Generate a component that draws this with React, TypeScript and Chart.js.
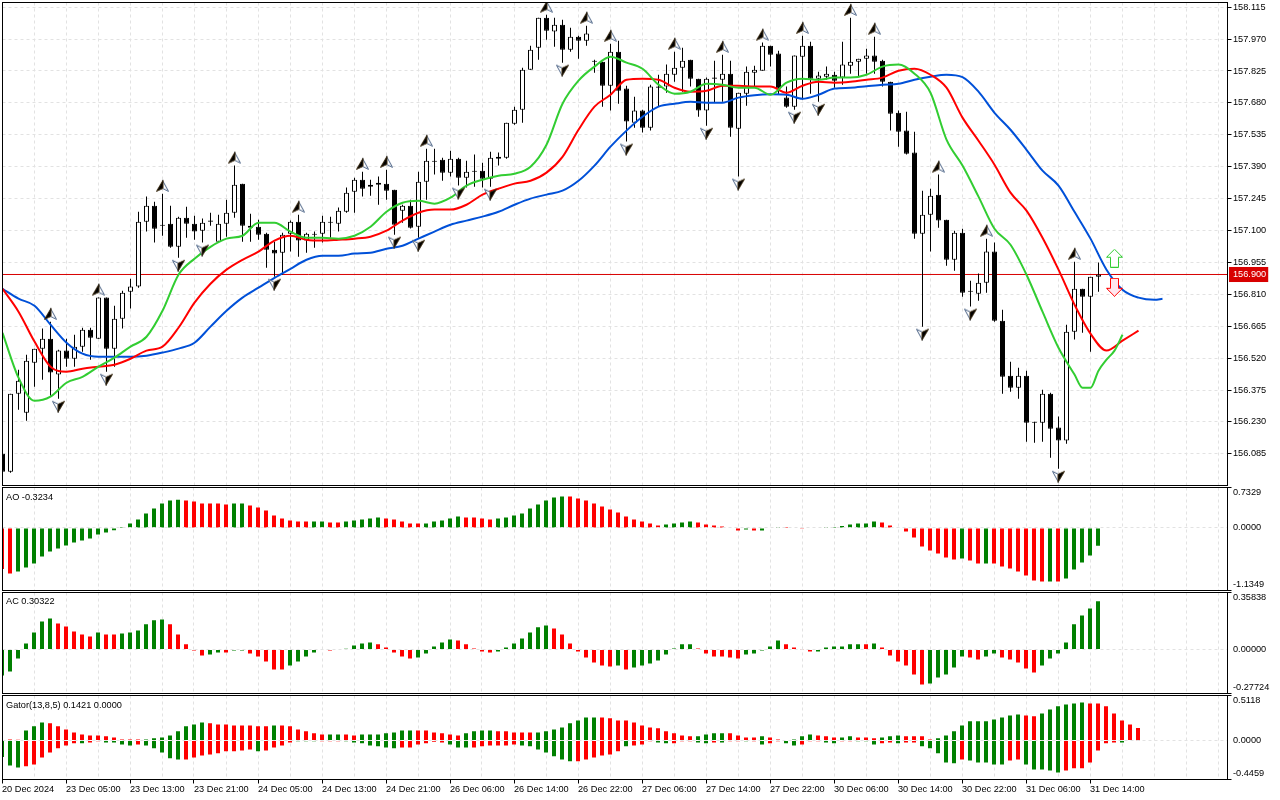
import React, { useEffect, useRef } from "react";
import { Chart, registerables } from "chart.js";

Chart.register(...registerables);

const opens = [
156.085,156.003,156.358,156.272,156.499,156.563,156.608,156.445,156.554,156.517,
156.572,156.649,156.608,156.795,156.563,156.699,156.822,156.845,157.140,157.213,
157.126,157.131,157.026,157.158,157.131,157.099,157.145,157.049,157.131,157.181,
157.313,157.122,157.117,157.085,157.013,156.999,157.085,157.140,157.054,157.085,
157.085,157.140,157.131,157.185,157.276,157.331,157.299,157.308,157.313,157.285,
157.190,157.213,157.117,157.322,157.417,157.422,157.363,157.426,157.340,157.372,
157.372,157.335,157.426,157.431,157.585,157.649,157.831,157.931,158.067,158.004,
158.035,157.922,157.981,157.963,157.872,157.867,157.758,157.913,157.745,157.590,
157.645,157.567,157.754,157.754,157.808,157.840,157.876,157.790,157.645,157.795,
157.785,157.813,157.563,157.722,157.817,157.826,157.940,157.904,157.704,157.663,
157.890,157.940,157.790,157.799,157.808,157.795,157.849,157.867,157.881,157.895,
157.872,157.776,157.635,157.554,157.454,157.085,157.172,157.263,157.149,156.967,
157.090,156.826,156.813,156.863,157.004,156.690,156.440,156.385,156.440,156.231,
156.226,156.358,156.204,156.145,156.640,156.835,156.799,156.890];

const highs = [
156.103,156.358,156.467,156.535,156.563,156.654,156.685,156.558,156.608,156.626,
156.658,156.658,156.795,156.795,156.758,156.826,156.881,157.185,157.254,157.231,
157.267,157.213,157.163,157.208,157.167,157.154,157.181,157.172,157.240,157.395,
157.313,157.176,157.149,157.090,157.049,157.090,157.145,157.172,157.090,157.095,
157.167,157.163,157.204,157.295,157.340,157.367,157.331,157.345,157.376,157.285,
157.217,157.240,157.367,157.472,157.472,157.431,157.463,157.431,157.417,157.445,
157.408,157.458,157.454,157.590,157.663,157.840,157.940,158.067,158.081,158.067,
158.058,158.022,157.985,158.031,157.876,157.867,157.949,157.963,157.758,157.708,
157.649,157.763,157.808,157.854,157.913,157.931,157.876,157.790,157.795,157.872,
157.899,157.872,157.726,157.845,157.849,157.954,157.940,157.917,157.754,157.895,
157.985,157.958,157.822,157.845,157.822,157.958,158.067,157.881,157.926,157.981,
157.876,157.776,157.645,157.640,157.549,157.281,157.290,157.354,157.149,157.099,
157.108,156.872,156.904,157.063,157.045,156.740,156.503,156.476,156.463,156.231,
156.376,156.363,156.254,156.672,156.958,156.835,156.890,156.954];

const lows = [
155.999,155.999,156.285,156.235,156.390,156.422,156.349,156.335,156.481,156.481,
156.549,156.513,156.608,156.458,156.481,156.654,156.745,156.840,157.095,157.045,
157.076,157.022,156.976,157.067,157.058,157.045,157.122,157.045,157.072,157.158,
157.049,157.049,157.058,156.931,156.890,156.899,157.004,156.981,156.999,157.022,
157.045,157.067,157.095,157.181,157.181,157.254,157.258,157.217,157.240,157.081,
157.135,157.109,157.067,157.240,157.354,157.326,157.345,157.304,157.295,157.299,
157.295,157.299,157.395,157.426,157.581,157.590,157.831,157.876,157.967,157.935,
157.863,157.913,157.881,157.940,157.817,157.663,157.645,157.676,157.504,157.567,
157.545,157.554,157.663,157.726,157.776,157.731,157.754,157.617,157.576,157.681,
157.685,157.526,157.345,157.667,157.754,157.826,157.845,157.717,157.658,157.649,
157.695,157.722,157.685,157.785,157.749,157.763,157.813,157.799,157.813,157.813,
157.754,157.554,157.481,157.445,157.063,156.663,157.004,157.113,156.940,156.917,
156.799,156.754,156.781,156.817,156.685,156.358,156.367,156.335,156.140,156.135,
156.140,156.067,156.017,156.131,156.604,156.635,156.549,156.822];

const closes = [
156.003,156.358,156.417,156.508,156.563,156.608,156.454,156.554,156.517,156.572,
156.649,156.613,156.795,156.563,156.699,156.817,156.845,157.140,157.213,157.108,
157.122,157.026,157.158,157.131,157.095,157.135,157.140,157.131,157.181,157.308,
157.122,157.113,157.081,157.013,156.995,157.081,157.140,157.054,157.085,157.081,
157.140,157.135,157.190,157.272,157.331,157.290,157.308,157.317,157.281,157.126,
157.213,157.113,157.322,157.417,157.413,157.363,157.426,157.340,157.367,157.367,
157.335,157.431,157.435,157.590,157.649,157.831,157.922,158.067,158.008,158.035,
157.922,157.981,157.963,157.995,157.867,157.758,157.913,157.735,157.595,157.645,
157.567,157.754,157.749,157.813,157.840,157.872,157.790,157.645,157.790,157.790,
157.813,157.567,157.726,157.822,157.831,157.940,157.899,157.745,157.663,157.895,
157.940,157.790,157.804,157.813,157.781,157.854,157.867,157.881,157.895,157.867,
157.776,157.631,157.549,157.449,157.085,157.172,157.258,157.145,156.967,157.090,
156.817,156.822,156.863,157.004,156.690,156.435,156.385,156.440,156.226,156.226,
156.358,156.199,156.145,156.640,156.835,156.799,156.890,156.900];

// Alligator lines, read every second bar (and bar by bar where the lips turn)
const jawValues = [
156.835,156.790,156.758,156.672,156.590,156.540,156.526,156.526,156.526,156.531,
156.545,156.563,156.590,156.663,156.735,156.795,156.840,156.885,156.926,156.967,
156.985,156.985,156.995,156.999,157.017,157.031,157.063,157.095,157.126,157.145,
157.163,157.185,157.217,157.245,157.263,157.281,157.326,157.395,157.481,157.554,
157.617,157.663,157.676,157.685,157.681,157.681,157.704,157.715,157.719,157.717,
157.699,157.717,157.745,157.749,157.756,157.763,157.767,157.785,157.799,157.808,
157.797,157.731,157.635,157.558,157.467,157.372,157.304,157.185,157.063,156.922,
156.831,156.795,156.785,156.790];
const teethValues = [
156.835,156.731,156.595,156.481,156.458,156.472,156.481,156.490,156.517,156.554,
156.572,156.658,156.772,156.858,156.922,156.967,157.004,157.054,157.076,157.058,
157.054,157.058,157.063,157.072,157.099,157.145,157.181,157.195,157.195,157.217,
157.263,157.290,157.313,157.326,157.363,157.435,157.558,157.663,157.717,157.785,
157.790,157.785,157.749,157.731,157.735,157.758,157.758,157.754,157.754,157.726,
157.758,157.776,157.772,157.776,157.785,157.795,157.826,157.835,157.808,157.749,
157.613,157.508,157.399,157.272,157.190,157.067,156.922,156.763,156.631,156.554,
156.599,156.645];
const lipsValues = [
156.635,156.431,156.326,156.345,156.408,156.435,156.481,156.522,156.572,156.617,
156.735,156.899,156.972,157.026,157.063,157.076,157.135,157.135,157.095,157.067,
157.067,157.063,157.076,157.117,157.185,157.226,157.235,157.222,157.249,157.304,
157.331,157.349,157.358,157.390,157.490,157.676,157.781,157.845,157.890,157.863,
157.835,157.763,157.722,157.731,157.767,157.763,157.749,157.749,157.717,157.772,
157.790,157.785,157.795,157.795,157.808,157.845,157.854,157.813,157.726,157.513,
157.395,157.254,157.108,157.035,156.899,156.731,156.567,156.445,156.385,156.385,
156.463,156.513,156.554,156.626];
const jawBars = jawValues.map((_, k) => Math.min(2 * k, 145));
const lipsBars = [...jawBars.slice(0, 68), 135, 136, 137, 138, 139, 140];

const fractalUpBars = [6,12,20,29,37,45,48,53,68,73,76,84,90,95,100,106,109,117,123,134];
const fractalDownBars = [7,13,22,25,34,49,52,57,61,70,78,88,92,99,102,115,121,132];

const lastPrice = 156.9;
const arrowBar = 139;
const arrowUpPrice = 156.974;
const arrowDownPrice = 156.842;

const aoValues = [
-.743,-.827,-.791,-.719,-.646,-.519,-.429,-.374,-.320,-.266,-.230,-.193,-.121,-.085,-.042,.018,.079,.151,.260,.350,
.441,.495,.513,.495,.477,.441,.441,.441,.423,.441,.441,.405,.368,.314,.223,.169,.133,.115,.115,.115,
.115,.097,.097,.115,.133,.151,.169,.187,.169,.151,.115,.079,.079,.079,.115,.133,.169,.205,.187,.187,
.169,.151,.169,.187,.223,.260,.350,.423,.495,.550,.568,.568,.532,.495,.441,.387,.332,.278,.205,.151,
.115,.079,.042,.060,.079,.097,.115,.097,.060,.042,.024,.006,-.048,-.030,-.048,-.048,-.012,.018,.018,-.012,
-.006,-.012,-.012,.018,.018,.036,.060,.079,.079,.115,.097,.042,.006,-.066,-.175,-.338,-.411,-.465,-.538,-.574,
-.556,-.592,-.646,-.646,-.646,-.701,-.737,-.791,-.864,-.954,-.972,-.972,-.972,-.918,-.755,-.628,-.501,-.3234];
const aoColorRuns = [2,21,6,2,8,2,2,5,5,5,4,9,12,4,6,1,1,3,5,7,10,1,2,1,7,1,1,5];

const acValues = [
-.164,-.139,-.057,.038,.107,.176,.195,.164,.145,.113,.094,.082,.107,.094,.094,.101,.107,.120,.158,.183,
.189,.158,.094,.032,-.006,-.038,-.032,-.019,-.019,-.006,-.006,-.025,-.044,-.076,-.126,-.126,-.101,-.076,-.044,-.019,
-.004,-.006,-.004,.004,.025,.038,.044,.032,.013,-.019,-.044,-.057,-.050,-.025,.019,.044,.063,.057,.032,.006,
-.013,-.019,-.013,.013,.038,.069,.107,.139,.151,.132,.094,.038,-.013,-.050,-.082,-.101,-.107,-.101,-.126,-.113,
-.101,-.088,-.069,-.032,.006,.032,.032,.006,-.025,-.044,-.044,-.050,-.057,-.032,-.025,-.006,.019,.057,.032,.013,
-.002,-.013,-.013,.013,.019,.019,.032,.032,.032,.038,.013,-.038,-.076,-.101,-.158,-.221,-.214,-.176,-.158,-.113,
-.044,-.050,-.063,-.044,-.025,-.050,-.063,-.082,-.120,-.145,-.101,-.057,-.025,.044,.158,.214,.258,.30322];
const acColorRuns = [0,7,5,1,2,6,5,2,1,2,5,5,1,5,5,5,5,7,8,1,1,8,6,5,4,6,1,1,6,5,2,2,5,8];

const gatorUpValues = [
.004,.011,.008,.114,.160,.205,.194,.160,.125,.091,.068,.057,.057,.046,.034,.011,.011,.011,.011,.023,
.034,.057,.103,.160,.182,.205,.194,.182,.182,.171,.171,.171,.160,.160,.171,.171,.160,.125,.103,.080,
.068,.068,.068,.068,.057,.068,.068,.068,.080,.091,.114,.114,.114,.114,.091,.080,.068,.057,.080,.103,
.114,.114,.103,.103,.091,.091,.091,.091,.103,.125,.148,.194,.228,.262,.262,.262,.251,.228,.228,.205,
.171,.148,.137,.103,.080,.057,.046,.046,.068,.080,.080,.080,.057,.034,.034,.046,.034,.011,.004,.011,
.046,.068,.057,.046,.034,.034,.046,.034,.034,.023,.034,.046,.057,.046,.046,.046,.011,.023,.057,.103,
.171,.217,.217,.217,.239,.262,.285,.296,.285,.274,.308,.353,.388,.410,.422,.433,.422,.422,.388,.308,
.228,.182,.1421];
const gatorDownValues = [
-.190,-.285,-.308,-.296,-.274,-.194,-.137,-.091,-.057,-.034,-.034,-.023,-.011,-.023,-.023,-.046,-.057,-.046,-.057,-.091,
-.137,-.205,-.217,-.217,-.194,-.171,-.160,-.148,-.125,-.125,-.114,-.103,-.125,-.114,-.080,-.057,-.023,-.011,-.011,-.011,
-.011,-.011,-.011,-.011,-.023,-.034,-.057,-.068,-.080,-.091,-.080,-.080,-.046,-.034,-.015,-.023,-.046,-.080,-.080,-.080,
-.068,-.057,-.057,-.057,-.046,-.057,-.068,-.103,-.137,-.182,-.217,-.239,-.239,-.217,-.194,-.171,-.160,-.125,-.068,-.057,
-.046,-.011,-.023,-.034,-.034,-.011,-.011,-.023,-.034,-.023,-.023,-.011,-.011,-.011,-.011,-.046,-.034,-.011,-.034,-.057,
-.046,-.011,-.011,-.023,-.034,-.011,-.011,-.011,-.011,-.046,-.034,-.023,-.034,-.023,-.023,-.068,-.091,-.148,-.251,-.262,
-.217,-.228,-.251,-.251,-.274,-.274,-.228,-.217,-.274,-.331,-.331,-.342,-.365,-.342,-.319,-.319,-.251,-.114,-.034,-.023,
-.023,-.008,-.004];
const gatorUpColorRuns = [3,3,12,8,8,1,6,2,2,7,6,4,5,8,12,4,4,1,2,4,3,2,3,3,4,11,2,6,7];
const gatorDownColorRuns = [0,3,7,1,2,4,1,5,9,1,4,3,3,7,6,3,6,7,6,1,3,2,3,2,1,1,2,1,1,1,2,2,3,2,2,3,2,1,2,5,1,5,2,5,7,1,2];

const timeLabels = [
"20 Dec 2024","23 Dec 05:00","23 Dec 13:00","23 Dec 21:00","24 Dec 05:00","24 Dec 13:00",
"24 Dec 21:00","26 Dec 06:00","26 Dec 14:00","26 Dec 22:00","27 Dec 06:00","27 Dec 14:00",
"27 Dec 22:00","30 Dec 06:00","30 Dec 14:00","30 Dec 22:00","31 Dec 06:00","31 Dec 14:00"];
const priceTicks = [158.115,157.97,157.825,157.68,157.535,157.39,157.245,157.1,156.955,156.81,156.665,156.52,156.375,156.23,156.085];

const aoRange = { max: 0.7329, min: -1.1349, labels: ["0.7329", "0.0000", "-1.1349"] };
const acRange = { max: 0.35838, min: -0.27724, labels: ["0.35838", "0.00000", "-0.27724"] };
const gatorRange = { max: 0.5118, min: -0.4459, labels: ["0.5118", "0.0000", "-0.4459"] };

const GREEN = "#008000";
const RED = "#ff0000";
const GRID = "#e2e2e2";
const FONT = { family: "'Liberation Sans', Arial, sans-serif", size: 9.2 };
const W = 1280;
const XMAX = 153.125;
const gridTicks = Array.from({ length: 39 }, (_, k) => k * 4);

function runsToColors(runs: number[]) {
  const out: string[] = [];
  runs.forEach((n, k) => { for (let j = 0; j < n; j++) out.push(k % 2 ? GREEN : RED); });
  return out;
}

function fractalIcon(up: boolean) {
  const c = document.createElement("canvas");
  c.width = 15; c.height = 30;
  const g = c.getContext("2d")!;
  const cx = 7.5;
  g.lineWidth = 1;
  if (up) {
    g.beginPath(); g.moveTo(cx, 1.5); g.lineTo(cx, 9.5); g.lineTo(13.5, 12.5); g.closePath();
    g.fillStyle = "#fff"; g.fill(); g.strokeStyle = "#4a6285"; g.stroke();
    g.beginPath(); g.moveTo(cx + 0.5, 1.5); g.lineTo(cx + 0.5, 9.5); g.lineTo(1.5, 12.5); g.closePath();
    g.fillStyle = "#000"; g.fill(); g.strokeStyle = "#3a2a10"; g.stroke();
  } else {
    g.beginPath(); g.moveTo(cx, 28.5); g.lineTo(cx, 20.5); g.lineTo(1.5, 17.5); g.closePath();
    g.fillStyle = "#fff"; g.fill(); g.strokeStyle = "#4a6285"; g.stroke();
    g.beginPath(); g.moveTo(cx - 0.5, 28.5); g.lineTo(cx - 0.5, 20.5); g.lineTo(13.5, 17.5); g.closePath();
    g.fillStyle = "#000"; g.fill(); g.strokeStyle = "#3a2a10"; g.stroke();
  }
  return c;
}

function arrowIcon(up: boolean) {
  const c = document.createElement("canvas");
  c.width = 17; c.height = 19;
  const g = c.getContext("2d")!;
  g.beginPath();
  if (up) {
    g.moveTo(8.5, 0.5); g.lineTo(16.5, 8.5); g.lineTo(12.5, 8.5); g.lineTo(12.5, 18.5);
    g.lineTo(4.5, 18.5); g.lineTo(4.5, 8.5); g.lineTo(0.5, 8.5);
  } else {
    g.moveTo(8.5, 18.5); g.lineTo(16.5, 10.5); g.lineTo(12.5, 10.5); g.lineTo(12.5, 0.5);
    g.lineTo(4.5, 0.5); g.lineTo(4.5, 10.5); g.lineTo(0.5, 10.5);
  }
  g.closePath();
  g.fillStyle = up ? "#fff" : "#ffe6ee"; g.fill();
  g.strokeStyle = up ? "#32cd32" : "#ff0000"; g.lineWidth = 1; g.stroke();
  return c;
}

const frame = {
  id: "frame",
  afterDraw(chart: any) {
    const { left, top, right, bottom } = chart.chartArea;
    const g = chart.ctx;
    g.save(); g.strokeStyle = "#000"; g.lineWidth = 1;
    g.strokeRect(left, top, right - left, bottom - top);
    g.restore();
  },
};

function xAxis(xmin: number, withLabels: boolean) {
  return {
    type: "linear", min: xmin, max: XMAX + xmin, offset: false,
    afterBuildTicks(s: any) { s.ticks = gridTicks.map((v) => ({ value: v })); },
    afterFit(s: any) { s.height = withLabels ? 20 : 0; s.paddingLeft = 0; s.paddingRight = 0; },
    border: { display: false, dash: [3, 3] },
    grid: {
      offset: false, z: -1, color: GRID, lineWidth: 1, drawTicks: withLabels, tickLength: 4,
      tickBorderDash: [],
      tickColor: (c: any) => (c.index % 2 === 0 && c.index / 2 < timeLabels.length ? "#000" : "transparent"),
    },
    ticks: {
      display: withLabels, autoSkip: false, maxRotation: 0, minRotation: 0, align: "start", padding: 0,
      color: "#000", font: FONT,
      callback: (_v: any, i: number) => (i % 2 === 0 ? timeLabels[i / 2] ?? "" : ""),
    },
  };
}

function indicatorY(r: { max: number; min: number; labels: string[] }, heightPx: number) {
  const per = (r.max - r.min) / heightPx;
  const list = [r.max, r.max - 5 * per, 0, r.min + 6 * per, r.min];
  const text = ["", r.labels[0], r.labels[1], r.labels[2], ""];
  return {
    type: "linear", position: "right", min: r.min, max: r.max,
    afterBuildTicks(s: any) { s.ticks = list.map((v) => ({ value: v })); },
    afterFit(s: any) { s.width = 52.5; s.paddingTop = 0; s.paddingBottom = 0; },
    border: { display: false, dash: [3, 3] },
    grid: {
      z: 1, lineWidth: 1, tickLength: 4, tickBorderDash: [],
      color: (c: any) => (c.index === 2 ? GRID : "transparent"),
      tickColor: (c: any) => (c.index === 0 || c.index === 4 ? "#000" : "transparent"),
    },
    ticks: { autoSkip: false, padding: 1.5, color: "#000", font: FONT, callback: (_v: any, i: number) => text[i] },
  };
}

function baseOptions(x: any, y: any, padding: any) {
  return {
    responsive: false, animation: false, devicePixelRatio: 1, events: [],
    layout: { padding, autoPadding: false },
    plugins: { legend: { display: false }, tooltip: { enabled: false } },
    scales: { x, y },
  };
}

function histo(values: number[], colors: string[]) {
  return {
    type: "bar", grouped: false, barThickness: 4, inflateAmount: 0, borderWidth: 0,
    data: values.map((v, i) => ({ x: i, y: v })), backgroundColor: colors,
  };
}

const lineDs = (bars: number[], values: number[], color: string, order: number) => ({
  type: "line", data: values.map((v, k) => ({ x: bars[k], y: v })),
  borderColor: color, borderWidth: 2, pointRadius: 0, cubicInterpolationMode: "monotone", order,
});

export default function App() {
  const mainRef = useRef<HTMLCanvasElement>(null);
  const aoRef = useRef<HTMLCanvasElement>(null);
  const acRef = useRef<HTMLCanvasElement>(null);
  const gatorRef = useRef<HTMLCanvasElement>(null);

  useEffect(() => {
    const bars = opens.map((_, i) => i);
    const mainX = xAxis(0, false);
    const mainY = {
      type: "linear", position: "right", min: 155.94091, max: 158.13636,
      afterBuildTicks(s: any) { s.ticks = [...priceTicks, lastPrice].sort((a, b) => a - b).map((v) => ({ value: v })); },
      afterFit(s: any) { s.width = 52.5; s.paddingTop = 0; s.paddingBottom = 0; },
      border: { display: false, dash: [3, 3] },
      grid: {
        z: -1, lineWidth: 1, tickLength: 4, tickBorderDash: [],
        color: (c: any) => (c.tick && c.tick.value === lastPrice ? "transparent" : GRID),
        tickColor: (c: any) => (c.tick && c.tick.value === lastPrice ? "transparent" : "#000"),
      },
      ticks: {
        autoSkip: false, padding: 1.5, font: FONT,
        color: (c: any) => (c.tick && c.tick.value === lastPrice ? "#fff" : "#000"),
        showLabelBackdrop: (c: any) => !!(c.tick && c.tick.value === lastPrice),
        backdropColor: "#d80000",
        backdropPadding: { top: 2, bottom: 2, left: 4, right: 2 },
        callback: (v: number) => v.toFixed(3),
      },
    };

    const charts = [
      new Chart(mainRef.current!, {
        type: "bar",
        data: {
          datasets: [
            { type: "line", data: [{ x: 0, y: lastPrice }, { x: XMAX, y: lastPrice }], borderColor: "#d80000", borderWidth: 1, pointRadius: 0, order: 9 },
            { type: "bar", grouped: false, barThickness: 1, inflateAmount: 0, borderWidth: 0, backgroundColor: "#000", order: 8,
              data: bars.map((i) => ({ x: i, y: [lows[i], highs[i]] })) },
            { type: "bar", grouped: false, barThickness: 5, inflateAmount: 0, borderWidth: 1, borderSkipped: false, borderColor: "#000", order: 7,
              backgroundColor: bars.map((i) => (closes[i] > opens[i] ? "#fff" : "#000")),
              data: bars.map((i) => ({ x: i, y: [Math.min(opens[i], closes[i]), Math.max(opens[i], closes[i])] })) },
            lineDs(jawBars, jawValues, "#0050d8", 6),
            lineDs(jawBars, teethValues, "#ff0000", 5),
            lineDs(lipsBars, lipsValues, "#32cd32", 4),
            { type: "line", showLine: false, order: 3, pointStyle: fractalIcon(true), pointRadius: 5,
              data: fractalUpBars.map((i) => ({ x: i, y: highs[i] })) },
            { type: "line", showLine: false, order: 2, pointStyle: fractalIcon(false), pointRadius: 5,
              data: fractalDownBars.map((i) => ({ x: i, y: lows[i] })) },
            { type: "line", showLine: false, order: 1, pointStyle: arrowIcon(true), pointRadius: 5,
              data: [{ x: arrowBar, y: arrowUpPrice }] },
            { type: "line", showLine: false, order: 0, pointStyle: arrowIcon(false), pointRadius: 5,
              data: [{ x: arrowBar, y: arrowDownPrice }] },
          ],
        },
        options: baseOptions(mainX, mainY, { left: 2.5, top: 2.5, right: 0, bottom: 0.5 }),
        plugins: [frame],
      } as any),
      new Chart(aoRef.current!, {
        type: "bar",
        data: { datasets: [histo(aoValues, runsToColors(aoColorRuns))] },
        options: baseOptions(xAxis(0.0625, false), indicatorY(aoRange, 103), { left: 2.5, top: 1.5, right: 0, bottom: 0.5 }),
        plugins: [frame],
      } as any),
      new Chart(acRef.current!, {
        type: "bar",
        data: { datasets: [histo(acValues, runsToColors(acColorRuns))] },
        options: baseOptions(xAxis(0.0625, false), indicatorY(acRange, 101), { left: 2.5, top: 1.5, right: 0, bottom: 0.5 }),
        plugins: [frame],
      } as any),
      new Chart(gatorRef.current!, {
        type: "bar",
        data: { datasets: [
          histo(gatorUpValues, runsToColors(gatorUpColorRuns)),
          histo(gatorDownValues, runsToColors(gatorDownColorRuns)),
        ] },
        options: baseOptions(xAxis(0.0625, true), indicatorY(gatorRange, 84), { left: 2.5, top: 1.5, right: 0, bottom: 0.5 }),
        plugins: [frame],
      } as any),
    ];
    return () => charts.forEach((c) => c.destroy());
  }, []);

  const cv = (top: number, height: number): React.CSSProperties => ({ position: "absolute", left: 0, top, width: W, height, display: "block" });
  const title = (top: number): React.CSSProperties => ({
    position: "absolute", left: 6, top, font: "9.2px/12px 'Liberation Sans', Arial, sans-serif", color: "#000", whiteSpace: "nowrap",
  });
  return (
    <div style={{ position: "fixed", left: 0, top: 0, width: W, height: 800, background: "#fff", overflow: "hidden" }}>
      <canvas ref={mainRef} width={W} height={486} style={cv(0, 486)} />
      <canvas ref={aoRef} width={W} height={105} style={cv(486, 105)} />
      <canvas ref={acRef} width={W} height={103} style={cv(591, 103)} />
      <canvas ref={gatorRef} width={W} height={106} style={cv(694, 106)} />
      <div style={title(491)}>AO -0.3234</div>
      <div style={title(595)}>AC 0.30322</div>
      <div style={title(699)}>Gator(13,8,5) 0.1421 0.0000</div>
    </div>
  );
}
